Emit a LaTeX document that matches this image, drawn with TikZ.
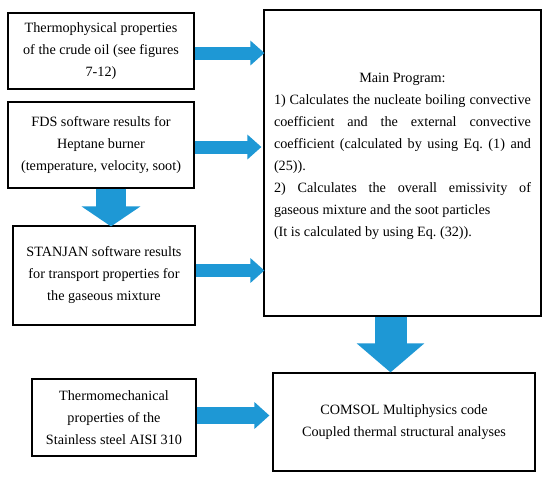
\documentclass[tikz,border=0pt]{standalone}
\usepackage{fontspec}
\setmainfont{Liberation Serif}
\frenchspacing
\usetikzlibrary{arrows.meta, calc, positioning}
\definecolor{flowBlue}{HTML}{1E98D5}
\tikzset{
  box/.style      = {draw, line width=1.2pt, inner sep=0pt, align=center,
                     font=\fontsize{14.2}{22}\selectfont},
  fatarrow/.style = {flowBlue, line width=#1},
  hhead/.style    = {-{Triangle[length=14pt, width=24pt]}},
}

\begin{document}
\begin{tikzpicture}[x=1pt,y=-1pt]
  \fill[white] (0,0) rectangle (550,480);
  \useasboundingbox (0,0) rectangle (550,480);
  % input boxes
  \node[box, minimum width=186pt, minimum height=76pt] (thermo) at (101,51)
    {Thermophysical properties\\ of the crude oil (see figures\\ 7-12)};
  \node[box, minimum width=186pt, minimum height=86pt] (fds) at (101,145)
    {FDS software results for\\ Heptane burner\\ (temperature, velocity, soot)};
  \node[box, minimum width=182pt, minimum height=99pt] (stanjan) at (104,275.5)
    {STANJAN software results\\ for transport properties for\\ the gaseous mixture};
  \node[box, minimum width=164pt, minimum height=77pt] (mech) at (114,417.5)
    {Thermomechanical\\ properties of the\\ Stainless steel AISI 310};
  % main program
  \node[box, minimum width=277pt, minimum height=306pt] (mainprog) at (402.5,163)
    {\parbox{257pt}{%
      \makebox[\linewidth]{Main Program:}\\
      \makebox[\linewidth][s]{1) Calculates the nucleate boiling convective}\\
      \makebox[\linewidth][s]{coefficient and the external convective}\\
      \makebox[\linewidth][s]{coefficient (calculated by using Eq. (1) and}\\
      (25)).\\
      \makebox[\linewidth][s]{2) Calculates the overall emissivity of}\\
      gaseous mixture and the soot particles\\
      (It is calculated by using Eq. (32)).\par\vspace{14pt}}};
  \node[box, minimum width=262pt, minimum height=98pt] (comsol) at (404,422)
    {COMSOL Multiphysics code\\ Coupled thermal structural analyses};
  % arrows
  \draw[fatarrow=13pt, hhead] ([yshift=-2pt]thermo.east) -- ([xshift=1pt,yshift=-2pt]mainprog.west |- thermo.east);
  \draw[fatarrow=13pt, hhead] ([yshift=-2pt]fds.east) -- ([xshift=-2pt,yshift=-2pt]mainprog.west |- fds.east);
  \draw[fatarrow=13pt, hhead] ([yshift=5pt]stanjan.east) -- ([xshift=1pt,yshift=5pt]mainprog.west |- stanjan.east);
  \draw[fatarrow=17pt, -{Triangle[length=15pt, width=26pt]}] ([yshift=2pt]mech.east) -- ([xshift=-3pt,yshift=2pt]comsol.west |- mech.east);
  \draw[fatarrow=30pt, -{Triangle[length=20pt, width=58pt]}] ([xshift=10pt]fds.south) -- ([xshift=10pt,yshift=-1pt]fds.south |- stanjan.north);
  \draw[fatarrow=32pt, -{Triangle[length=29pt, width=66pt]}] ([xshift=-12pt]mainprog.south) -- ([xshift=-12pt]mainprog.south |- comsol.north);
\end{tikzpicture}
\end{document}
